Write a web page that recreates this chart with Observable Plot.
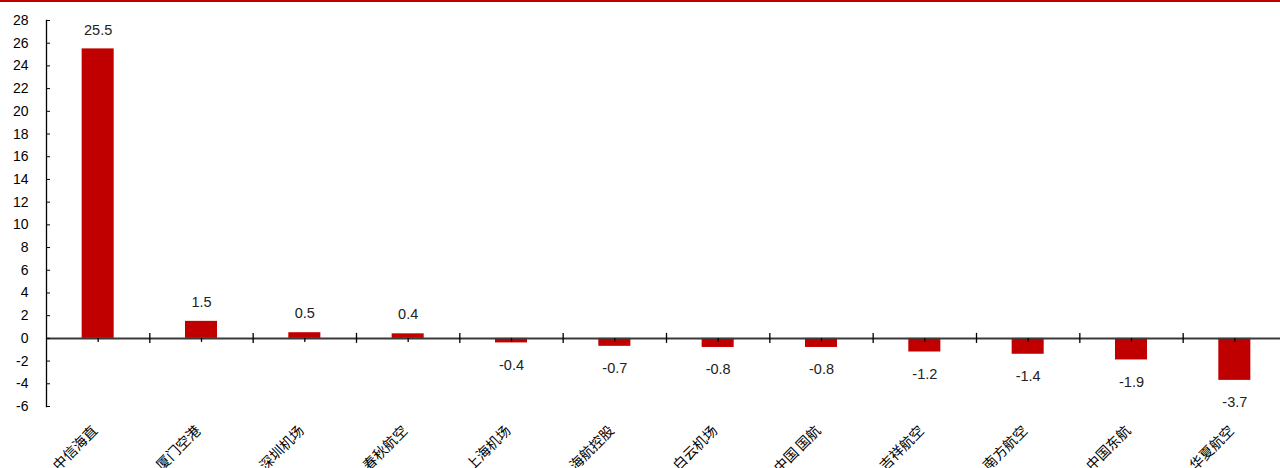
<!DOCTYPE html>
<html>
<head>
<meta charset="utf-8">
<script src="https://cdn.jsdelivr.net/npm/d3@7"></script>
<script src="https://cdn.jsdelivr.net/npm/@observablehq/plot@0.6"></script>
<style>
  html, body { margin: 0; padding: 0; background: #fff; overflow: hidden; }
  #chart { width: 1280px; height: 466px; border-top: 2px solid #C00000; }
  #chart svg { display: block; }
</style>
</head>
<body>
<div id="chart"></div>
<script>
const categories = ["中信海直", "厦门空港", "深圳机场", "春秋航空", "上海机场", "海航控股", "白云机场", "中国 国航", "吉祥航空", "南方航空", "中国东航", "华夏航空"];
const values = [25.5, 1.5, 0.5, 0.4, -0.4, -0.7, -0.8, -0.8, -1.2, -1.4, -1.9, -3.7];
const yTicks = [-6, -4, -2, 0, 2, 4, 6, 8, 10, 12, 14, 16, 18, 20, 22, 24, 26, 28];

const data = categories.map((name, i) => ({name, value: values[i]}));

const width = 1280, height = 466;
const marginLeft = 46, marginRight = -6;
const step = (width - marginLeft - marginRight) / categories.length;
const red = "#C00000";

const chart = Plot.plot({
  width, height,
  marginLeft, marginRight,
  marginTop: 18, marginBottom: 62,
  x: {domain: categories, paddingInner: 0.69, paddingOuter: 0.345, round: false, axis: null, label: null},
  y: {domain: [-6, 28], axis: null, label: null},
  style: {fontFamily: "'Liberation Sans', Arial, sans-serif", fontSize: "14px", color: "#000", background: "#fff"},
  marks: [
    Plot.barY(data, {x: "name", y: "value", fill: red}),
    Plot.ruleY([0], {stroke: "#3a3a3a", strokeWidth: 2}),
    Plot.ruleX(categories.slice(1), {x: d => d, y1: 0, y2: 0, insetTop: -5, insetBottom: -5, dx: -step / 2, stroke: "#000", strokeWidth: 1.3}),
    Plot.ruleX(categories, {x: d => d, y1: 0, y2: 0, insetBottom: -4, stroke: "#000", strokeWidth: 1.3}),
    Plot.frame({anchor: "left", stroke: "#000", strokeWidth: 1.3}),
    Plot.axisY({ticks: yTicks, tickSize: -4, tickPadding: 22, tickFormat: d => String(d), fontSize: 14, fill: "#000", label: null}),
    Plot.text(data, {x: "name", y: "value", text: d => d.value.toFixed(1), fontSize: 14.5, fill: "#222",
      filter: d => d.value >= 0, dy: -19}),
    Plot.text(data, {x: "name", y: "value", text: d => d.value.toFixed(1), fontSize: 14.5, fill: "#222",
      filter: d => d.value < 0, dy: 22}),
    Plot.text(data, {x: "name", y: -6, text: "name", rotate: -45, textAnchor: "end", dx: -3, dy: 22,
      fontFamily: "'Noto Sans CJK SC', sans-serif", fontSize: 14, fill: "#000"})
  ]
});
document.getElementById("chart").appendChild(chart);
</script>
</body>
</html>
